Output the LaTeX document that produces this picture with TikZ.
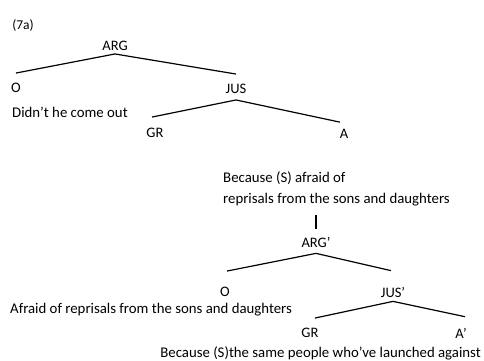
\documentclass[tikz,border=0pt]{standalone}
\usepackage{fontspec}
\setmainfont{Carlito}

\begin{document}
\begin{tikzpicture}[x=1pt,y=-1pt]
\tikzset{
lbl/.style={inner sep=1pt,font=\fontsize{14.5}{17}\selectfont},
txt/.style={inner sep=0pt,align=left,font=\fontsize{14.8}{21}\selectfont},
br/.style={line width=1.2pt}
}
\useasboundingbox (0,0) rectangle (484,360);
% first tree
\node[lbl,font=\fontsize{13.5}{16}\selectfont] (num) at (23,25) {(7a)};
\node[lbl] (arg) at (115,46) {ARG};
\node[lbl] (o) at (16,88) {O};
\node[lbl] (jus) at (236,89) {JUS};
\node[txt,anchor=west] (did) at (12,112) {Didn't he come out};
\node[lbl] (gr) at (155,133) {GR};
\node[lbl] (a) at (344,134) {A};
\draw[br] ([yshift=-2pt]arg.south) -- ([yshift=9pt]o.north);
\draw[br] ([yshift=-2pt]arg.south) -- ([yshift=9pt]jus.north);
\draw[br] ([yshift=-5pt]jus.south) -- ([xshift=-3pt,yshift=10pt]gr.north);
\draw[br] ([yshift=-5pt]jus.south) -- ([xshift=-4pt,yshift=6pt]a.north);
% second tree
\node[txt,anchor=west] (bec) at (223,189) {Because (S) afraid of\\reprisals from the sons and daughters};
\node[lbl] (argp) at (316,242) {ARG'};
\draw[br] ([yshift=-9pt]bec.south -| argp) -- ([yshift=7pt]argp.north);
\node[lbl] (op) at (225,292) {O};
\node[lbl] (jusp) at (393,292) {JUS'};
\node[txt,anchor=west] (afr) at (10,310) {Afraid of reprisals from the sons and daughters};
\node[lbl] (grp) at (310,333) {GR};
\node[lbl] (ap) at (461,333) {A'};
\node[txt,anchor=east] (bec2) at (481,353) {Because (S)the same people who've launched against};
\draw[br] ([yshift=-5pt]argp.south) -- ([xshift=2pt,yshift=15pt]op.north);
\draw[br] ([yshift=-5pt]argp.south) -- ([xshift=-2pt,yshift=15pt]jusp.north);
\draw[br] ([yshift=-3pt]jusp.south) -- ([xshift=5pt,yshift=9pt]grp.north);
\draw[br] ([yshift=-3pt]jusp.south) -- ([xshift=4pt,yshift=10pt]ap.north);
\end{tikzpicture}
\end{document}
